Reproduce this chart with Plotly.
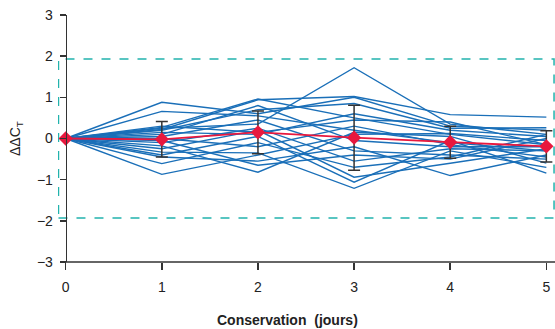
import plotly.graph_objects as go

days = [0, 1, 2, 3, 4, 5]

# individual series (ΔΔCT)
series = [
    [0, 0.88, 0.60, 1.00, 0.30, 0.20],
    [0, 0.66, 0.55, 0.20, -0.10, -0.30],
    [0, 0.27, 0.96, 0.50, 0.10, -0.15],
    [0, 0.25, 0.35, 1.72, 0.35, 0.10],
    [0, 0.22, 0.94, 1.02, 0.58, 0.52],
    [0, 0.20, 0.70, 0.85, 0.25, 0.26],
    [0, 0.15, 0.10, 0.60, 0.20, 0.05],
    [0, 0.05, 0.45, -0.30, -0.40, -0.50],
    [0, 0.00, -0.20, 0.30, -0.15, -0.45],
    [0, -0.10, 0.25, -0.55, -0.25, -0.30],
    [0, -0.18, -0.82, 0.15, 0.05, -0.60],
    [0, -0.25, 0.20, -0.94, -0.60, -0.25],
    [0, -0.33, -0.35, -1.21, -0.30, -0.70],
    [0, -0.40, 0.05, -1.06, -0.05, -0.84],
    [0, -0.45, -0.55, -0.20, -0.90, -0.40],
    [0, -0.61, -0.10, -0.70, -0.45, 0.10],
    [0, -0.87, -0.40, 0.10, 0.12, -0.05],
    [0, 0.10, 0.80, -0.05, -0.20, -0.20],
    [0, -0.05, -0.65, -0.40, -0.50, 0.00],
    [0, 0.30, 0.15, 0.45, 0.40, -0.15],
]

mean_vals = [0, -0.02, 0.15, 0.02, -0.09, -0.19]
err_vals = [0, 0.43, 0.52, 0.79, 0.39, 0.38]

limit = 1.93
y_ticks = [-3, -2, -1, 0, 1, 2, 3]

xmin, xmax = -0.08, 5.09
blue = "#1a6fb8"
red = "#e8183e"
teal = "#22b3ad"
axis_col = "#333333"
font = "Liberation Sans, Arial, sans-serif"

W, H = 555, 329
L, R, T, B = 58, 0, 15, 67
pw, ph = W - L - R, H - T - B

fig = go.Figure()

for s in series:
    fig.add_trace(go.Scatter(x=days, y=s, mode="lines",
                             line=dict(color=blue, width=1.4),
                             showlegend=False, hoverinfo="skip"))

# error bars (days 1..5)
fig.add_trace(go.Scatter(x=days[1:], y=mean_vals[1:], mode="markers",
                         marker=dict(size=1, color="rgba(0,0,0,0)"),
                         error_y=dict(type="data", array=err_vals[1:], visible=True,
                                      color=axis_col, thickness=1.5, width=6),
                         showlegend=False, hoverinfo="skip"))

# mean line
fig.add_trace(go.Scatter(x=days, y=mean_vals, mode="lines+markers",
                         line=dict(color=red, width=1.8),
                         marker=dict(symbol="diamond", size=11, color=red),
                         showlegend=False, cliponaxis=False))

# dashed limits box
fig.add_shape(type="rect", xref="x", yref="y", x0=-0.075, x1=5.08,
              y0=-limit, y1=limit,
              line=dict(color=teal, width=1.5, dash="dash"), layer="below")

# x axis line from x=0
fig.add_shape(type="line", xref="x", yref="paper", x0=0, x1=xmax, y0=0, y1=0,
              line=dict(color=axis_col, width=1.5))

fig.update_layout(
    width=W, height=H,
    margin=dict(l=L, r=R, t=T, b=B, autoexpand=False),
    plot_bgcolor="white", paper_bgcolor="white",
    font=dict(family=font, size=14, color="#222222"),
    xaxis=dict(range=[xmin, xmax], tickvals=days, ticks="outside", ticklen=7,
               tickwidth=1.5, tickcolor=axis_col, showgrid=False, zeroline=False,
               showline=False, tickfont=dict(size=14), automargin=False,
               ticklabelstandoff=5),
    yaxis=dict(range=[-3, 3], tickvals=y_ticks, ticks="outside", ticklen=6,
               tickwidth=1.5, tickcolor=axis_col, showgrid=False, zeroline=False,
               showline=True, linecolor=axis_col, linewidth=1.5,
               anchor="free", position=(0 - xmin) / (xmax - xmin),
               tickfont=dict(size=14), automargin=False, ticklabelstandoff=4),
    annotations=[
        dict(text="<b>Conservation  (jours)</b>", x=(287 - L) / pw,
             y=(H - 320 - B) / ph, xref="paper", yref="paper",
             xanchor="center", yanchor="middle", showarrow=False,
             font=dict(size=14, family=font)),
        dict(text="ΔΔC<sub>T</sub>", x=(16 - L) / pw, y=(H - 139 - B) / ph,
             xref="paper", yref="paper", xanchor="center", yanchor="middle",
             showarrow=False, textangle=-90, font=dict(size=14, family=font)),
    ],
)

fig.write_html("out.html",
               config={"displayModeBar": False, "staticPlot": True},
               post_script="document.body.style.margin='0';"
                           "document.body.style.overflow='hidden';")
